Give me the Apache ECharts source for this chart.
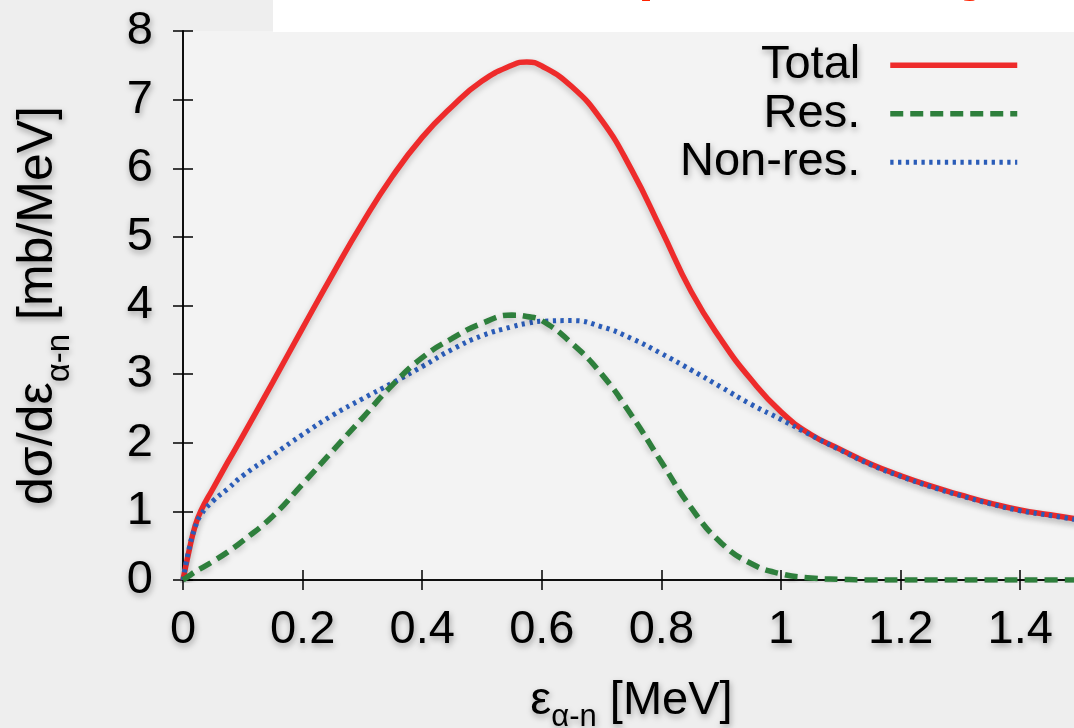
<!DOCTYPE html>
<html><head><meta charset="utf-8">
<script src="https://cdn.jsdelivr.net/npm/echarts@6/dist/echarts.min.js"></script>
<style>html,body{margin:0;padding:0;background:#eeeeee}#c{width:1074px;height:728px}</style>
</head><body><div id="c"></div>
<script>
// ---- data ----
const xs      = [0,0.01,0.02,0.03,0.05,0.075,0.1,0.15,0.2,0.25,0.3,0.35,0.4,0.45,0.5,0.55,0.575,0.6,0.65,0.7,0.75,0.8,0.85,0.9,0.95,1.0,1.05,1.1,1.15,1.2,1.25,1.3,1.35,1.4,1.45,1.5];
const totalY  = [0,0.42,0.78,1.01,1.33,1.72,2.10,2.88,3.67,4.45,5.20,5.88,6.45,6.90,7.27,7.50,7.55,7.49,7.19,6.70,5.98,5.10,4.20,3.50,2.92,2.45,2.12,1.90,1.69,1.52,1.37,1.24,1.12,1.02,0.95,0.88];
const resY    = [0,0.06,0.12,0.17,0.27,0.41,0.57,0.93,1.40,1.88,2.36,2.84,3.24,3.52,3.74,3.86,3.84,3.78,3.45,3.0,2.40,1.72,1.05,0.54,0.24,0.09,0.03,0.01,0,0,0,0,0,0,0,0];
const nonresY = [0,0.45,0.76,0.95,1.15,1.33,1.52,1.82,2.12,2.40,2.64,2.87,3.11,3.36,3.56,3.69,3.74,3.77,3.78,3.69,3.52,3.30,3.06,2.81,2.56,2.34,2.11,1.89,1.68,1.51,1.36,1.23,1.11,1.01,0.94,0.87];
const seriesNames = ['Total','Res.','Non-res.'];
const xAxisName = '{m|ε}{s|α-n}{m| [MeV]}';
const yAxisName = '{m|dσ/dε}{s|α-n}{m| [mb/MeV]}';
const titleText = 'Calculated α-n spectra by sum';

const FONT = '"Liberation Sans", Arial, Helvetica, sans-serif';
const tshadow = {textShadowColor:'rgba(0,0,0,0.35)', textShadowBlur:6, textShadowOffsetX:1, textShadowOffsetY:3};
const lshadow = {shadowColor:'rgba(0,0,0,0.22)', shadowBlur:6, shadowOffsetY:3};

function pairs(ys){ return xs.map((x,i)=>[x, ys[i]]); }

// title placement (only the bottoms of the glyphs are visible)
const cv = document.createElement('canvas').getContext('2d');
cv.font = '90px "Liberation Sans"';
const titleX = 636 - cv.measureText('Calculated α-n s').width;

const axisLineStyle = {color:'#000', width:1.5};
const chart = echarts.init(document.getElementById('c'));
chart.setOption({
  backgroundColor:'#eeeeee',
  animation:false,
  grid:{left:183, right:-6, top:31, bottom:148, show:true, backgroundColor:'#f3f3f3', borderWidth:0, outerBoundsMode:'none'},
  legend:{
    orient:'vertical', right:54, top:41, align:'right', padding:0, itemGap:0,
    itemWidth:127, itemHeight:2, selectedMode:false,
    lineStyle:{width:'inherit'},
    itemStyle:{opacity:0},
    textStyle:{fontSize:47, lineHeight:48.5, fontFamily:FONT, color:'#000', padding:[0,25,0,0], ...tshadow},
    data:seriesNames
  },
  xAxis:[
    {type:'value', min:0, max:1.5, interval:0.2, position:'bottom',
     name:xAxisName, nameLocation:'middle', nameGap:89, nameMoveOverlap:false,
     nameTextStyle:{rich:{
       m:{fontSize:47, lineHeight:64, fontFamily:FONT, color:'#000', ...tshadow},
       s:{fontSize:31, lineHeight:35, verticalAlign:'bottom', fontFamily:FONT, color:'#000', ...tshadow}}},
     axisLine:{show:true, lineStyle:axisLineStyle},
     axisTick:{show:true, inside:true, length:10, lineStyle:axisLineStyle},
     axisLabel:{margin:27, fontSize:47, color:'#000', fontFamily:FONT, showMaxLabel:false, ...tshadow},
     splitLine:{show:false}},
    {type:'value', min:0, max:1.5, interval:0.2, position:'top',
     axisLine:{show:true, lineStyle:axisLineStyle},
     axisTick:{show:true, inside:true, length:10, lineStyle:axisLineStyle},
     axisLabel:{show:false}, splitLine:{show:false}}
  ],
  yAxis:[
    {type:'value', min:0, max:8, interval:1, position:'left',
     name:yAxisName, nameLocation:'middle', nameGap:107, nameRotate:90, nameMoveOverlap:false,
     nameTextStyle:{rich:{
       m:{fontSize:50, lineHeight:76, fontFamily:FONT, color:'#000', ...tshadow},
       s:{fontSize:33, lineHeight:34, verticalAlign:'bottom', fontFamily:FONT, color:'#000', ...tshadow}}},
     axisLine:{show:true, lineStyle:axisLineStyle},
     axisTick:{show:true, inside:true, length:10, lineStyle:axisLineStyle},
     axisLabel:{margin:30, fontSize:47, color:'#000', fontFamily:FONT, ...tshadow},
     splitLine:{show:false}},
    {type:'value', min:0, max:8, interval:1, position:'right',
     axisLine:{show:true, lineStyle:axisLineStyle},
     axisTick:{show:true, inside:true, length:10, lineStyle:axisLineStyle},
     axisLabel:{show:false}, splitLine:{show:false}}
  ],
  graphic:[
    {type:'rect', z:100, shape:{x:273, y:0, width:801, height:32}, style:{fill:'#ffffff'}},
    {type:'text', z:101, x:titleX, y:-43, style:{text:titleText, font:'90px "Liberation Sans"', fill:'#ff2200', textVerticalAlign:'middle', verticalAlign:'middle', textAlign:'left', align:'left'}}
  ],
  series:[
    {name:'Total', type:'line', data:pairs(totalY), smooth:0.5, showSymbol:false, symbol:'none', z:2,
     lineStyle:{color:'#ee2b2b', width:5.5, type:'solid', ...lshadow}, itemStyle:{color:'#ee2b2b'}},
    {name:'Non-res.', type:'line', data:pairs(nonresY), smooth:0.5, showSymbol:false, symbol:'none', z:3,
     lineStyle:{color:'#2a5cb8', width:5, type:[3.3,4.5], ...lshadow}, itemStyle:{color:'#2a5cb8'}},
    {name:'Res.', type:'line', data:pairs(resY), smooth:0.5, showSymbol:false, symbol:'none', z:4,
     lineStyle:{color:'#2e7f3c', width:5.5, type:[13,7], ...lshadow}, itemStyle:{color:'#2e7f3c'}}
  ]
});
</script></body></html>
